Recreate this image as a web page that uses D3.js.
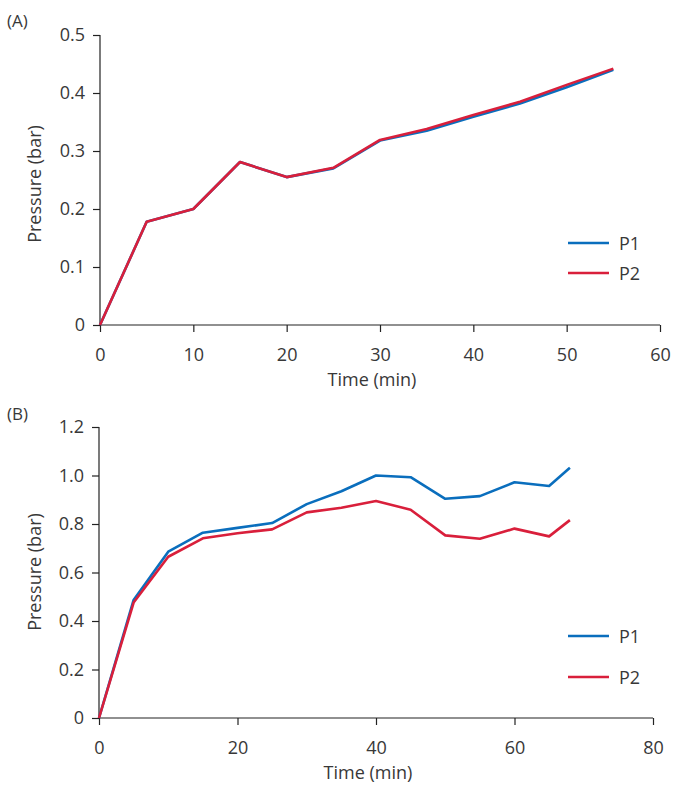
<!DOCTYPE html>
<html>
<head>
<meta charset="utf-8">
<script src="https://cdn.jsdelivr.net/npm/d3@7"></script>
<style>
  body { margin: 0; background: #fff; }
  svg { display: block; }
  text { font-family: "Open Sans", sans-serif; fill: #383838; }
</style>
</head>
<body>
<svg id="chart" width="676" height="786"></svg>
<script>
// Panel A data
const timeA = [0, 5, 10, 15, 20, 25, 30, 35, 40, 45, 50, 55];
const p1A = [0, 0.178, 0.200, 0.281, 0.255, 0.270, 0.318, 0.335, 0.359, 0.382, 0.410, 0.440];
const p2A = [0, 0.178, 0.200, 0.281, 0.255, 0.271, 0.319, 0.338, 0.362, 0.385, 0.414, 0.442];
const xTicksA = [0, 10, 20, 30, 40, 50, 60];
const yTicksA = [0, 0.1, 0.2, 0.3, 0.4, 0.5];

// Panel B data
const timeB = [0, 5, 10, 15, 20, 25, 30, 35, 40, 45, 50, 55, 60, 65, 68];
const p1B = [0, 0.487, 0.686, 0.764, 0.784, 0.804, 0.882, 0.935, 1.000, 0.993, 0.904, 0.915, 0.972, 0.957, 1.032];
const p2B = [0, 0.476, 0.665, 0.741, 0.762, 0.778, 0.848, 0.867, 0.895, 0.859, 0.753, 0.739, 0.781, 0.749, 0.816];
const xTicksB = [0, 20, 40, 60, 80];
const yTicksB = [0, 0.2, 0.4, 0.6, 0.8, 1.0, 1.2];

const seriesNames = ["P1", "P2"];
const colors = ["#0a6ebd", "#d91f3b"];

const svg = d3.select("#chart");
const FS = "18px";

function panel(cfg) {
  const x = d3.scaleLinear().domain(cfg.xDomain).range(cfg.xRange);
  const y = d3.scaleLinear().domain(cfg.yDomain).range(cfg.yRange);
  const g = svg.append("g");

  const xAxis = d3.axisBottom(x).tickValues(cfg.xTicks).tickSize(7).tickPadding(16)
    .tickFormat(d3.format("d"));
  const yAxis = d3.axisLeft(y).tickValues(cfg.yTicks).tickSize(7).tickPadding(8)
    .tickFormat(cfg.yFormat);

  const gx = g.append("g").attr("transform", `translate(0,${cfg.yRange[0]})`).call(xAxis);
  const gy = g.append("g").attr("transform", `translate(${cfg.xRange[0]},0)`).call(yAxis);
  [gx, gy].forEach(a => {
    a.select(".domain").attr("stroke", "#222").attr("stroke-width", 1.2);
    a.selectAll(".tick line").attr("stroke", "#222").attr("stroke-width", 1.2);
    a.selectAll(".tick text").style("font-size", FS).attr("fill", "#383838")
      .style("font-family", '"Open Sans", sans-serif');
  });
  gx.select(".domain").attr("d", `M${cfg.xRange[0]},0H${cfg.xRange[1]}`);
  gy.select(".domain").attr("d", `M0,${cfg.yRange[0]}V${cfg.yRange[1]}`);

  const line = d3.line().x(d => x(d[0])).y(d => y(d[1]));
  cfg.series.forEach((s, i) => {
    g.append("path")
      .datum(cfg.time.map((t, k) => [t, s[k]]))
      .attr("fill", "none")
      .attr("stroke", colors[i])
      .attr("stroke-width", 2.6)
      .attr("stroke-linejoin", "round")
      .attr("d", line);
  });

  seriesNames.forEach((n, i) => {
    const ly = cfg.legendY[i];
    g.append("line").attr("x1", 568).attr("x2", 609).attr("y1", ly).attr("y2", ly)
      .attr("stroke", colors[i]).attr("stroke-width", 2.6);
    g.append("text").attr("x", 619).attr("y", ly + 7).text(n).style("font-size", FS);
  });

  g.append("text").attr("x", (cfg.xRange[0] + cfg.xRange[1]) / 2 - 8)
    .attr("y", cfg.yRange[0] + 61).attr("text-anchor", "middle")
    .style("font-size", FS).text("Time (min)");
  g.append("text").attr("transform", `translate(41,${cfg.yTitleCenter}) rotate(-90)`)
    .attr("text-anchor", "middle").style("font-size", FS).text("Pressure (bar)");
  g.append("text").attr("x", 7).attr("y", cfg.labelY).style("font-size", "17px").text(cfg.label);
}

panel({
  xDomain: [0, 60], xRange: [100, 660],
  yDomain: [0, 0.5], yRange: [325, 35],
  xTicks: xTicksA, yTicks: yTicksA,
  yFormat: d => d === 0 ? "0" : d3.format(".1f")(d),
  time: timeA, series: [p1A, p2A],
  legendY: [243, 273],
  yTitleCenter: 184, label: "(A)", labelY: 27
});

panel({
  xDomain: [0, 80], xRange: [99, 653],
  yDomain: [0, 1.2], yRange: [718, 427],
  xTicks: xTicksB, yTicks: yTicksB,
  yFormat: d => d === 0 ? "0" : d3.format(".1f")(d),
  time: timeB, series: [p1B, p2B],
  legendY: [636, 677],
  yTitleCenter: 572, label: "(B)", labelY: 420
});
</script>
</body>
</html>
